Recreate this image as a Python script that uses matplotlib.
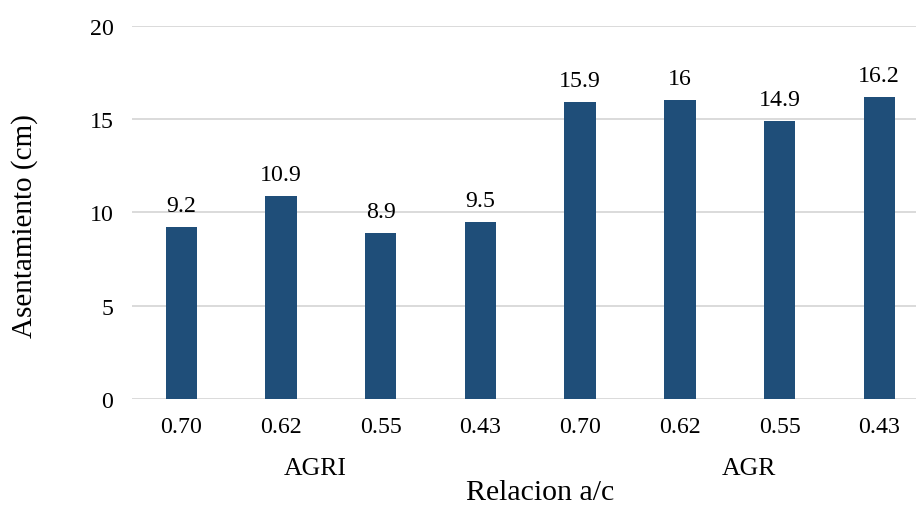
import matplotlib.pyplot as plt
import matplotlib.transforms as mtransforms
import numpy as np

plt.rcParams['font.family'] = ['Liberation Serif', 'DejaVu Serif']

ratios = ["0.70", "0.62", "0.55", "0.43", "0.70", "0.62", "0.55", "0.43"]
groups = ["AGRI", "AGR"]
slump = [9.2, 10.9, 8.9, 9.5, 15.9, 16, 14.9, 16.2]
value_labels = ["9.2", "10.9", "8.9", "9.5", "15.9", "16", "14.9", "16.2"]

W, H = 916, 506
fig = plt.figure(figsize=(W / 100, H / 100), dpi=100)
# axes in pixel terms: left 131.5, right at image edge, y=0 at 400, y=20 at 26.7
ax = fig.add_axes([131.5 / W, 1 - 400 / H, (W - 131.5) / W, (400 - 26.7) / H])

x = np.arange(len(slump))
bar_color = '#1F4E79'
ax.bar(x, slump, width=0.314, color=bar_color, zorder=3)

for xi, v, lab in zip(x, slump, value_labels):
    ax.annotate(lab, (xi, v), xytext=(0, 11.5), textcoords='offset points',
                ha='center', va='baseline', fontsize=17.2, color='#000000')

ax.set_xlim(-0.5, -0.5 + (W - 131.5) / 99.7)
ax.set_ylim(0, 20)
ax.set_yticks([0, 5, 10, 15, 20])
ax.set_xticks(x)
ax.set_xticklabels(ratios)
ax.tick_params(axis='both', length=0, labelsize=17.2, colors='#000000')
ax.tick_params(axis='y', pad=13)
ax.tick_params(axis='x', pad=12.5)
ax.yaxis.grid(True, color='#d4d4d4', linewidth=1.2, zorder=0)
ax.set_axisbelow(True)
for s in ax.spines.values():
    s.set_visible(False)

# group labels under the tick labels
trans = mtransforms.blended_transform_factory(ax.transData, ax.transAxes)
group_pos = [1.34, 5.69]
for gx, g in zip(group_pos, groups):
    ax.text(gx, -0.201, g, transform=trans, ha='center', va='baseline', fontsize=18.5)

fig.text(540 / W, 1 - 500 / H, "Relacion a/c", ha='center', va='baseline', fontsize=21.5)
fig.text(25 / W, 1 - 226 / H, "Asentamiento (cm)", ha='center', va='center',
         rotation=90, fontsize=21)

fig.savefig('out.png', dpi=100)
